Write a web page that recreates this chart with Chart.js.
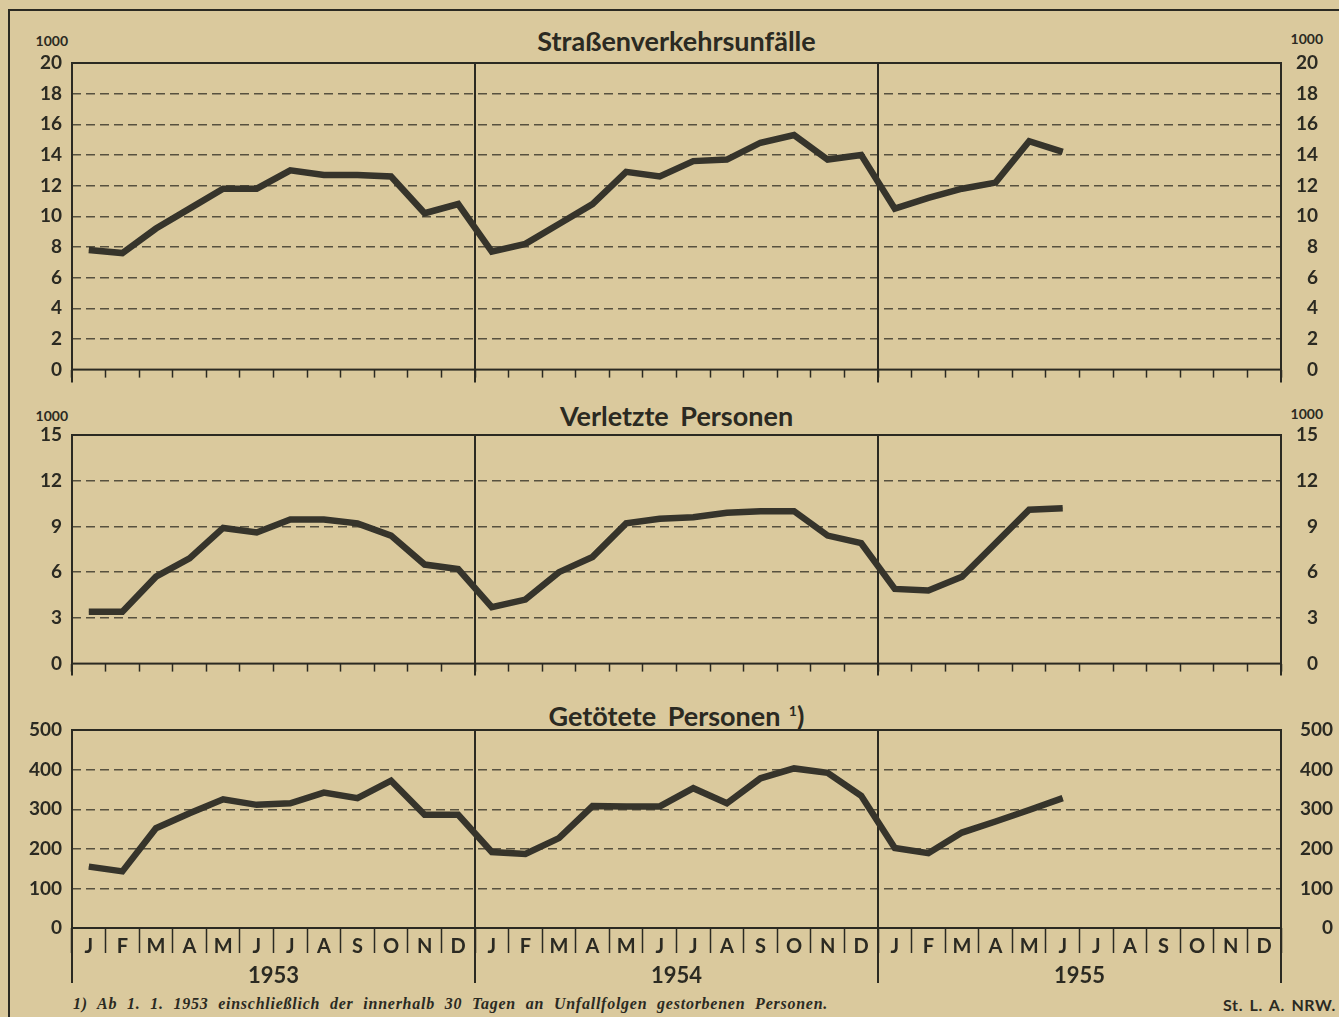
<!DOCTYPE html>
<html lang="de">
<head>
<meta charset="utf-8">
<title>Straßenverkehrsunfälle 1953–1955</title>
<script src="https://cdn.jsdelivr.net/npm/chart.js@4.4.1/dist/chart.umd.min.js"></script>
<style>
  html, body { margin: 0; padding: 0; }
  body {
    width: 1339px; height: 1017px; position: relative; overflow: hidden;
    background: #dac99d; color: #2b2a22; font-family: Lato, sans-serif;
  }
  canvas { position: absolute; left: 0; }
  #c1 { top: 0; }
  #c2 { top: 395px; }
  #c3 { top: 690px; }
  .frame {
    position: absolute; left: 8px; top: 9px; right: -10px; bottom: -10px;
    border-top: 2.5px solid #2b2a22; border-left: 2px solid #2b2a22;
  }
  .title {
    position: absolute; left: 72px; width: 1209px; text-align: center;
    font-weight: bold; font-size: 27px; line-height: 30px; word-spacing: 5px;
  }
  .title sup { font-size: 14px; vertical-align: 10px; }
  .unit { position: absolute; width: 60px; text-align: right; font-weight: bold; font-size: 14px; line-height: 16px; }
  .year { position: absolute; width: 100px; text-align: center; font-weight: bold; font-size: 22px; line-height: 24px; top: 963px; }
  .note {
    position: absolute; left: 73px; top: 995px; font-family: "Liberation Serif", serif;
    font-style: italic; font-weight: bold; font-size: 16px; letter-spacing: 0.75px; word-spacing: 5px;
  }
  .src { position: absolute; right: 3px; top: 995px; font-weight: bold; font-size: 16px; letter-spacing: 0.6px; word-spacing: 2px; }
</style>
</head>
<body>
<div class="frame"></div>

<div class="title" style="top:26px">Straßenverkehrsunfälle</div>
<div class="title" style="top:401px">Verletzte Personen</div>
<div class="title" style="top:696px">Getötete Personen<sup> 1</sup>)</div>

<div class="unit" style="left:8px; top:33px">1000</div>
<div class="unit" style="left:1263px; top:31px">1000</div>
<div class="unit" style="left:8px; top:408px">1000</div>
<div class="unit" style="left:1263px; top:406px">1000</div>

<canvas id="c1" width="1339" height="393"></canvas>
<canvas id="c2" width="1339" height="292"></canvas>
<canvas id="c3" width="1339" height="296"></canvas>

<div id="years"></div>
<div class="note">1) Ab 1. 1. 1953 einschließlich der innerhalb 30 Tagen an Unfallfolgen gestorbenen Personen.</div>
<div class="src">St. L. A. NRW.</div>

<script>
// Month initials and years on the shared time axis
const MONTHS = ["J", "F", "M", "A", "M", "J", "J", "A", "S", "O", "N", "D"];
const YEARS = ["1953", "1954", "1955"];

// Monthly values Jan 1953 - Jun 1955 (first two in thousands)
const ACCIDENTS = [7.8, 7.6, 9.2, 10.5, 11.8, 11.8, 13.0, 12.7, 12.7, 12.6, 10.2, 10.8,
  7.7, 8.2, 9.5, 10.8, 12.9, 12.6, 13.6, 13.7, 14.8, 15.3, 13.7, 14.0,
  10.5, 11.2, 11.8, 12.2, 14.9, 14.2];
const INJURED = [3.4, 3.4, 5.7, 6.9, 8.9, 8.6, 9.45, 9.45, 9.2, 8.4, 6.5, 6.2,
  3.7, 4.2, 6.0, 7.0, 9.2, 9.5, 9.6, 9.9, 10.0, 10.0, 8.4, 7.9,
  4.9, 4.8, 5.7, 7.9, 10.1, 10.2];
const KILLED = [155, 143, 252, 290, 325, 311, 315, 342, 328, 372, 286, 286,
  192, 187, 227, 308, 307, 307, 353, 315, 378, 403, 392, 334,
  202, 189, 241, 269, 298, 328];

// Y axis ranges: [max, step]
const ACCIDENTS_AXIS = [20, 2];
const INJURED_AXIS = [15, 3];
const KILLED_AXIS = [500, 100];

const LABELS = YEARS.flatMap(() => MONTHS);

const INK = "#2b2a22";
const LINE = "#36342b";
const CORE = "#8f8873";
const GRID = "#57513f";
const tickFont = { family: "Lato", weight: "bold", size: 19 };

// Frame around the plot area plus year dividers running below it
const framePlugin = {
  id: "frame",
  beforeDatasetsDraw(chart, args, opts) {
    const { ctx, chartArea: a } = chart;
    const w = (a.right - a.left) / LABELS.length;
    ctx.save();
    ctx.strokeStyle = INK;
    ctx.lineWidth = 2;
    ctx.strokeRect(a.left, a.top, a.right - a.left, a.bottom - a.top);
    for (let i = 0; i <= LABELS.length; i += MONTHS.length) {
      const px = Math.round(a.left + i * w);
      ctx.beginPath();
      ctx.moveTo(px, a.top);
      ctx.lineTo(px, a.bottom + opts.ext);
      ctx.stroke();
    }
    ctx.restore();
  },
};

function makePanel(id, values, axis, opts) {
  const [max, step] = axis;
  const plotRight = 1281;
  return new Chart(document.getElementById(id), {
    type: "line",
    data: {
      labels: LABELS,
      datasets: [
        { data: values, borderColor: LINE, borderWidth: 6.5, pointRadius: 0, borderJoinStyle: "miter", borderCapStyle: "butt" },
        { data: values, borderColor: CORE, borderWidth: 1.6, pointRadius: 0, borderJoinStyle: "miter" },
      ],
    },
    options: {
      responsive: false,
      animation: false,
      layout: { padding: { top: opts.top, left: 0, right: 1339 - opts.labelRight, bottom: 0 } },
      plugins: {
        legend: { display: false },
        tooltip: { enabled: false },
        frame: { ext: opts.ext },
      },
      scales: {
        x: {
          offset: true,
          grid: {
            offset: true,
            drawOnChartArea: false,
            color: "transparent",
            tickLength: opts.tick,
            tickColor: INK,
            tickWidth: 1.5,
          },
          border: { display: false },
          ticks: {
            display: opts.labels,
            autoSkip: false,
            maxRotation: 0,
            padding: opts.pad,
            color: INK,
            font: { family: "Lato", weight: "bold", size: 20 },
          },
          afterFit: (s) => { s.height = opts.xh; },
        },
        y: {
          position: "left",
          min: 0,
          max: max,
          ticks: { stepSize: step, padding: 10, color: INK, font: tickFont, crossAlign: "near" },
          grid: {
            drawTicks: false,
            lineWidth: 1.4,
            color: (c) => (c.tick && (c.tick.value === 0 || c.tick.value === max) ? "transparent" : GRID),
          },
          border: { display: false, dash: [9, 5] },
          afterFit: (s) => { s.width = 72; },
        },
        y2: {
          position: "right",
          min: 0,
          max: max,
          ticks: { stepSize: step, padding: 12, color: INK, font: tickFont, crossAlign: "far" },
          grid: { display: false },
          border: { display: false },
          afterFit: (s) => { s.width = opts.labelRight - plotRight; },
        },
      },
    },
    plugins: [framePlugin],
  });
}

makePanel("c1", ACCIDENTS, ACCIDENTS_AXIS, { top: 63, tick: 8, ext: 13, xh: 14, labels: false, pad: 0, labelRight: 1318 });
makePanel("c2", INJURED, INJURED_AXIS, { top: 40, tick: 8, ext: 12, xh: 14, labels: false, pad: 0, labelRight: 1318 });
makePanel("c3", KILLED, KILLED_AXIS, { top: 40, tick: 25, ext: 55, xh: 58, labels: true, pad: -18, labelRight: 1333 });

// Year captions under the bottom axis
const yearBox = document.getElementById("years");
YEARS.forEach((y, i) => {
  const d = document.createElement("div");
  d.className = "year";
  d.textContent = y;
  d.style.left = (72 + (i + 0.5) * (1209 / YEARS.length) - 50) + "px";
  yearBox.appendChild(d);
});
</script>
</body>
</html>
